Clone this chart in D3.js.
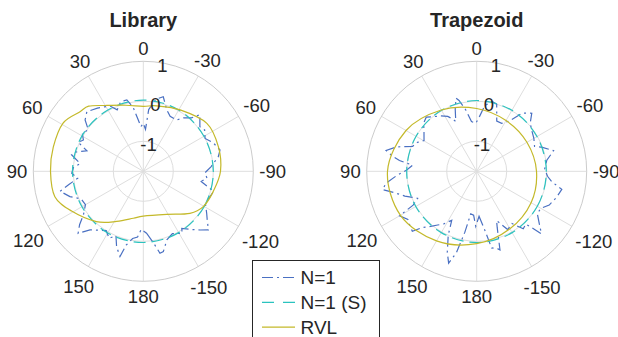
<!DOCTYPE html>
<html>
<head>
<meta charset="utf-8">
<script src="https://cdn.jsdelivr.net/npm/d3@7"></script>
<style>
  body { margin: 0; background: #fff; }
  text { font-family: "Liberation Sans", Arial, Helvetica, sans-serif; fill: #262626; }
</style>
</head>
<body>
<svg id="chart" width="618" height="337"></svg>
<script>
// axis ticks
const thetaTicks = [0, 30, 60, 90, 120, 150, 180, -150, -120, -90, -60, -30];
const rTicks = [-1, 0, 1];
const rMin = -1.75, rMax = 1;
const titles = ["Library", "Trapezoid"];
const seriesNames = ["N=1", "N=1 (S)", "RVL"];

// Library
const libN1Theta = [-177, -172, -168.5, -166, -161, -155, -148, -146, -140, -136, -132, -127, -123.5, -117, -111, -106, -100, -96, -91.5, -86, -79, -74.5, -68, -62, -56, -51.8, -45, -42, -37, -33, -26, -21, -15, -10, -5, -3, 0, 3, 6, 9, 13, 18, 23, 27, 31, 36, 40, 43.5, 48.6, 53, 58, 62.4, 66, 70, 74, 77, 83, 87, 91.6, 96, 100, 103.5, 109, 114, 120, 126, 130, 133.6, 137.7, 143.5, 148, 153, 157, 160.5, 164.7, 167, 171, 175, 178];
const libN1 = [-0.2, 0.05, 0.34, 0.32, 0.06, -0.03, 0.08, -0.03, 0.15, 0.29, 0.44, 0.25, 0.15, -0.01, 0.03, 0.08, -0.28, -0.15, -0.21, -0.05, 0.16, 0.24, 0.14, 0, 0.1, 0.05, 0.25, 0.05, -0.08, -0.22, -0.22, -0.11, 0.18, 0.08, -0.2, -0.7, -0.55, -0.63, -0.43, -0.13, 0.08, 0.08, -0.08, 0.08, 0.13, 0.2, 0.25, 0.3, 0.19, -0.03, 0.05, -0.06, 0.03, -0.25, 0, 0.09, -0.16, 0, 0.04, -0.1, 0.13, 0.39, 0.19, -0.05, -0.08, 0.1, 0.33, 0.5, 0.23, 0.08, 0, 0.13, 0, 0.25, 0.46, 0.14, -0.05, -0.1, -0.3];
const libSTheta = [0, 30, 60, 90, 120, 150, 180, -150, -120, -90, -60, -30];
const libS = [0.03, 0.02, 0.02, 0.02, 0.02, 0.03, 0.03, 0.02, 0.01, 0, 0, 0.02];
const libRvlTheta = [0, 15, 30, 40, 47, 59, 75, 90, 106, 119, 137, 152, 168, 180, -151.5, -132, -120.5, -106, -90, -72, -53, -31, -11.5];
const libRvl = [-0.125, -0.04, 0.15, 0.375, 0.425, 0.59, 0.58, 0.57, 0.55, 0.3, -0.03, -0.33, -0.55, -0.63, -0.525, -0.18, -0.01, 0.07, 0.18, 0.225, 0.24, 0.04, -0.08];

// Trapezoid
const trapN1Theta = [-177, -172, -169, -165, -163.5, -160, -158, -152, -146, -141, -137, -134, -129, -125, -120, -115, -108, -102, -98, -94, -88, -81, -75, -70, -66.7, -60, -53.3, -48, -43.5, -38, -33, -27.5, -21.8, -16.6, -12, -7, -3, 1, 6, 10, 14, 15.8, 19, 22.8, 25, 27.8, 33, 38.7, 43, 47.8, 53, 59.7, 64, 68.7, 73, 77, 80, 82, 84.6, 89, 93, 97.5, 101, 105, 109, 114.6, 118, 120, 125, 129, 133, 136, 139, 144, 148, 153, 156, 160, 163, 166, 169, 172, 176, 179];
const trapN1 = [-0.625, -0.25, 0.2, 0.25, 0.3, -0.25, -0.425, -0.1, -0.175, 0.1, 0.05, 0.5, 0.25, 0.1, 0.1, 0.25, 0.35, 0.425, 0.15, 0.025, -0.05, 0.025, 0.24, 0, -0.175, -0.1, -0.035, 0.05, 0.25, 0.1, -0.25, -0.4, -0.4, 0, 0.04, -0.1, -0.375, -0.55, -0.5, -0.2, 0.075, 0.15, -0.1, -0.4, -0.3, -0.2, -0.1, 0, 0.1, 0.04, -0.1, -0.225, -0.1, -0.03, 0.34, 0.575, 0.375, 0.2, -0.14, 0, 0.25, 0.54, 0.645, 0.35, 0.15, -0.125, 0.05, 0.475, 0.35, 0.4, 0.45, 0.2, 0.09, -0.09, -0.2, -0.375, 0, 0.4, 0.65, 0.35, -0.2, -0.675, -0.65, -0.375];
const trapSTheta = [0, 30, 60, 90, 120, 150, 180, -150, -120, -90, -60, -30];
const trapS = [0.02, 0.01, 0, 0, 0.01, 0.02, 0.03, 0.02, 0, -0.01, -0.01, 0.01];
const trapRvlTheta = [0, 30, 60, 90, 120, 150, 180, -150, -120, -90, -60, -30];
const trapRvl = [-0.18, 0.02, 0.29, 0.48, 0.45, 0.26, 0.06, -0.09, -0.18, -0.255, -0.3, -0.285];

const colors = ["#4a70c2", "#2ac3bf", "#c4b92a"];
const dashes = ["10,4,2,4", "12,6", null];

const svg = d3.select("#chart");
const radius = 110;
const rScale = d3.scaleLinear().domain([rMin, rMax]).range([0, radius]);
const toRad = t => -t * Math.PI / 180;

function sortedPoints(theta, vals) {
  return theta.map((t, i) => ({ t: t, v: vals[i] })).sort((a, b) => a.t - b.t);
}

function drawPolar(cx, cy, title, series) {
  const g = svg.append("g").attr("transform", "translate(" + cx + "," + cy + ")");

  // grid
  g.selectAll(".spoke").data(thetaTicks).enter().append("line")
    .attr("x1", 0).attr("y1", 0)
    .attr("x2", d => -Math.sin(d * Math.PI / 180) * radius)
    .attr("y2", d => -Math.cos(d * Math.PI / 180) * radius)
    .attr("stroke", "#dedede").attr("stroke-width", 1);
  g.selectAll(".ring").data(rTicks).enter().append("circle")
    .attr("r", d => rScale(d))
    .attr("fill", "none")
    .attr("stroke", d => d === rMax ? "#cccccc" : "#dedede")
    .attr("stroke-width", 1);

  // data
  const line = d3.lineRadial()
    .angle(d => toRad(d.t))
    .radius(d => rScale(d.v));
  series.forEach((s, i) => {
    g.append("path")
      .datum(sortedPoints(s.theta, s.values))
      .attr("d", line.curve(s.smooth ? d3.curveCardinalClosed : d3.curveLinearClosed))
      .attr("fill", "none")
      .attr("stroke", colors[i])
      .attr("stroke-width", 1.2)
      .attr("stroke-dasharray", dashes[i]);
  });

  // theta labels
  g.selectAll(".tlabel").data(thetaTicks).enter().append("text")
    .attr("text-anchor", "middle")
    .attr("dy", "0.35em")
    .style("font-size", "18.5px")
    .text(d => d)
    .each(function (d) {
      const w = this.getComputedTextLength();
      const ux = -Math.sin(d * Math.PI / 180), uy = -Math.cos(d * Math.PI / 180);
      const R = 116 + Math.abs(ux) * w / 2 + Math.abs(uy) * 6.5;
      d3.select(this).attr("x", ux * R).attr("y", uy * R + (uy > 0.1 ? 3 : 0));
    });

  // r labels
  const ra = 10 * Math.PI / 180;
  g.selectAll(".rlabel").data(rTicks).enter().append("text")
    .attr("text-anchor", "middle")
    .attr("dy", "0.35em")
    .style("font-size", "18.5px")
    .attr("x", d => Math.sin(ra) * rScale(d))
    .attr("y", d => -Math.cos(ra) * rScale(d) + 2.5)
    .text(d => d);

  svg.append("text")
    .attr("x", cx).attr("y", 27)
    .attr("text-anchor", "middle")
    .style("font-size", "20px").style("font-weight", "bold")
    .text(title);
}

drawPolar(143.3, 171.3, titles[0], [
  { theta: libN1Theta, values: libN1 },
  { theta: libSTheta, values: libS, smooth: true },
  { theta: libRvlTheta, values: libRvl, smooth: true }
]);
drawPolar(476.7, 171.3, titles[1], [
  { theta: trapN1Theta, values: trapN1 },
  { theta: trapSTheta, values: trapS, smooth: true },
  { theta: trapRvlTheta, values: trapRvl, smooth: true }
]);

// legend
const legend = svg.append("g");
legend.append("rect")
  .attr("x", 252.5).attr("y", 260.5).attr("width", 127).attr("height", 100)
  .attr("fill", "#fff").attr("stroke", "#262626").attr("stroke-width", 1);
const items = legend.selectAll(".item").data(seriesNames).enter().append("g")
  .attr("transform", (d, i) => "translate(0," + (277.5 + i * 24.8) + ")");
items.append("line")
  .attr("x1", 262).attr("x2", 295)
  .attr("stroke", (d, i) => colors[i])
  .attr("stroke-width", 1.2)
  .attr("stroke-dasharray", (d, i) => i === 0 ? "11,4,2,4" : i === 1 ? "12,9" : null);
items.append("text")
  .attr("x", 300.5).attr("dy", "0.35em")
  .style("font-size", "19px")
  .text(d => d);
</script>
</body>
</html>
